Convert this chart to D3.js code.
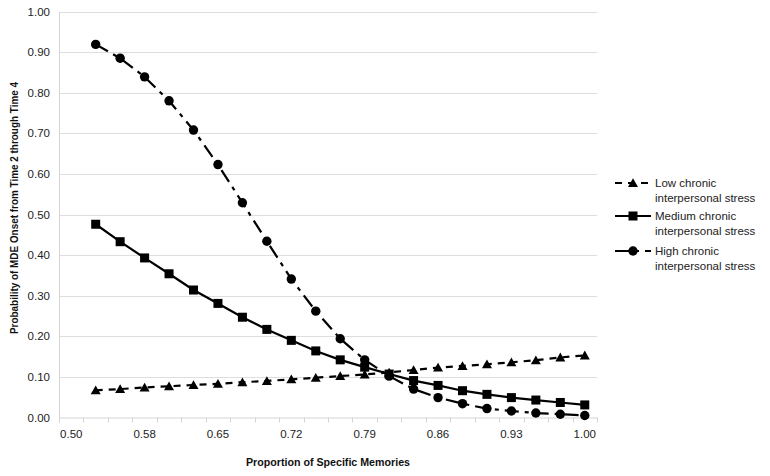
<!DOCTYPE html>
<html><head><meta charset="utf-8">
<script src="https://cdn.jsdelivr.net/npm/d3@7/dist/d3.min.js"></script>
<style>
body{margin:0;background:#fff;}
text{font-family:"Liberation Sans",Arial,Helvetica,sans-serif;}
</style></head>
<body><svg id="c" width="770" height="476"></svg>
<script>
const categories = ["0.50","0.52","0.55","0.58","0.60","0.62","0.65","0.67","0.70","0.72","0.74","0.77","0.79","0.81","0.84","0.86","0.88","0.91","0.93","0.95","0.98","1.00"];
const lowStress = [null,0.067,0.070,0.074,0.077,0.080,0.083,0.087,0.090,0.094,0.098,0.102,0.106,0.111,0.117,0.123,0.127,0.131,0.136,0.141,0.148,0.153];
const mediumStress = [null,0.476,0.433,0.393,0.354,0.314,0.281,0.247,0.217,0.190,0.164,0.142,0.124,0.107,0.091,0.079,0.066,0.057,0.049,0.043,0.037,0.031];
const highStress = [null,0.919,0.885,0.839,0.780,0.708,0.623,0.529,0.434,0.341,0.262,0.194,0.142,0.102,0.070,0.049,0.034,0.022,0.016,0.011,0.008,0.005];
const yTicks = [0,0.1,0.2,0.3,0.4,0.5,0.6,0.7,0.8,0.9,1.0];
const seriesNames = [["Low chronic","interpersonal stress"],["Medium chronic","interpersonal stress"],["High chronic","interpersonal stress"]];

const svg = d3.select("#c");
const L = 59, R = 597, T = 11.5, B = 417.5;
const x = d3.scaleBand().domain(categories).range([L, R]).padding(0);
const y = d3.scaleLinear().domain([0, 1]).range([B, T]);

// gridlines
svg.append("g").selectAll("line").data(yTicks.slice(1)).join("line")
  .attr("x1", L).attr("x2", R).attr("y1", d => Math.round(y(d))+0.5).attr("y2", d => Math.round(y(d))+0.5)
  .attr("stroke", "#dedede").attr("stroke-width", 1);

// y axis
const yAxis = d3.axisLeft(y).tickValues(yTicks).tickFormat(d3.format(".2f")).tickSize(0).tickPadding(9);
const gy = svg.append("g").attr("transform", `translate(${L},0)`).call(yAxis);
gy.select(".domain").attr("stroke", "#d4d4d4");
gy.selectAll("text").attr("font-size", 11.5).attr("fill", "#222");

// x axis
const xAxis = d3.axisBottom(x).tickSize(0).tickPadding(12)
  .tickFormat((d, i) => i % 3 === 0 ? d : "");
const gx = svg.append("g").attr("transform", `translate(0,${B})`).call(xAxis);
gx.select(".domain").attr("stroke", "#d4d4d4");
gx.selectAll("text").attr("font-size", 11.5).attr("fill", "#222");
// tick marks at category boundaries
const bounds = categories.map(c => x(c)).concat([R]);
svg.append("g").selectAll("line").data(bounds).join("line")
  .attr("x1", d => Math.round(d)+0.5).attr("x2", d => Math.round(d)+0.5)
  .attr("y1", B).attr("y2", B + 5).attr("stroke", "#d4d4d4");

const cx = i => x(categories[i]) + x.bandwidth() / 2;

const series = [
  {data: lowStress, dash: "7,6", marker: "triangle"},
  {data: mediumStress, dash: null, marker: "square"},
  {data: highStress, dash: "14,6,4,6", marker: "circle"}
];

const line = d3.line().defined(d => d.v != null).x(d => d.x).y(d => y(d.v));

function drawMarker(g, type, px, py) {
  if (type === "triangle") {
    g.append("path").attr("d", "M0,-4.8L5,4L-5,4Z").attr("transform", `translate(${px},${py})`).attr("fill", "#000");
  } else if (type === "square") {
    g.append("rect").attr("x", px - 4.5).attr("y", py - 4.5).attr("width", 9).attr("height", 9).attr("fill", "#000");
  } else {
    g.append("circle").attr("cx", px).attr("cy", py).attr("r", 4.7).attr("fill", "#000");
  }
}

series.forEach(s => {
  const pts = s.data.map((v, i) => ({x: cx(i), v}));
  const p = svg.append("path").datum(pts).attr("d", line)
    .attr("fill", "none").attr("stroke", "#000").attr("stroke-width", 2.2);
  if (s.dash) p.attr("stroke-dasharray", s.dash);
  const g = svg.append("g");
  pts.forEach(pt => { if (pt.v != null) drawMarker(g, s.marker, pt.x, y(pt.v)); });
});

// legend
const legY = [183, 216, 251];
series.forEach((s, i) => {
  const g = svg.append("g");
  const ly = legY[i];
  const l = g.append("line").attr("x1", 615).attr("x2", 651).attr("y1", ly).attr("y2", ly)
    .attr("stroke", "#000").attr("stroke-width", 2.2);
  if (s.dash) l.attr("stroke-dasharray", s.dash);
  drawMarker(g, s.marker, 633, ly);
  g.append("text").attr("x", 655).attr("y", ly + 4).attr("font-size", 11.5).attr("fill", "#222").text(seriesNames[i][0]);
  g.append("text").attr("x", 655).attr("y", ly + 19).attr("font-size", 11.5).attr("fill", "#222").text(seriesNames[i][1]);
});

// axis titles
svg.append("text").attr("x", (L + R) / 2).attr("y", 466).attr("text-anchor", "middle")
  .attr("font-size", 11).attr("font-weight", "bold").attr("fill", "#111")
  .attr("textLength", 164).attr("lengthAdjust", "spacingAndGlyphs").text("Proportion of Specific Memories");
svg.append("text").attr("transform", `translate(18,208) rotate(-90)`).attr("text-anchor", "middle")
  .attr("font-size", 11).attr("font-weight", "bold").attr("fill", "#111")
  .attr("textLength", 252).attr("lengthAdjust", "spacingAndGlyphs").text("Probability of MDE Onset from Time 2 through Time 4");
</script></body></html>
